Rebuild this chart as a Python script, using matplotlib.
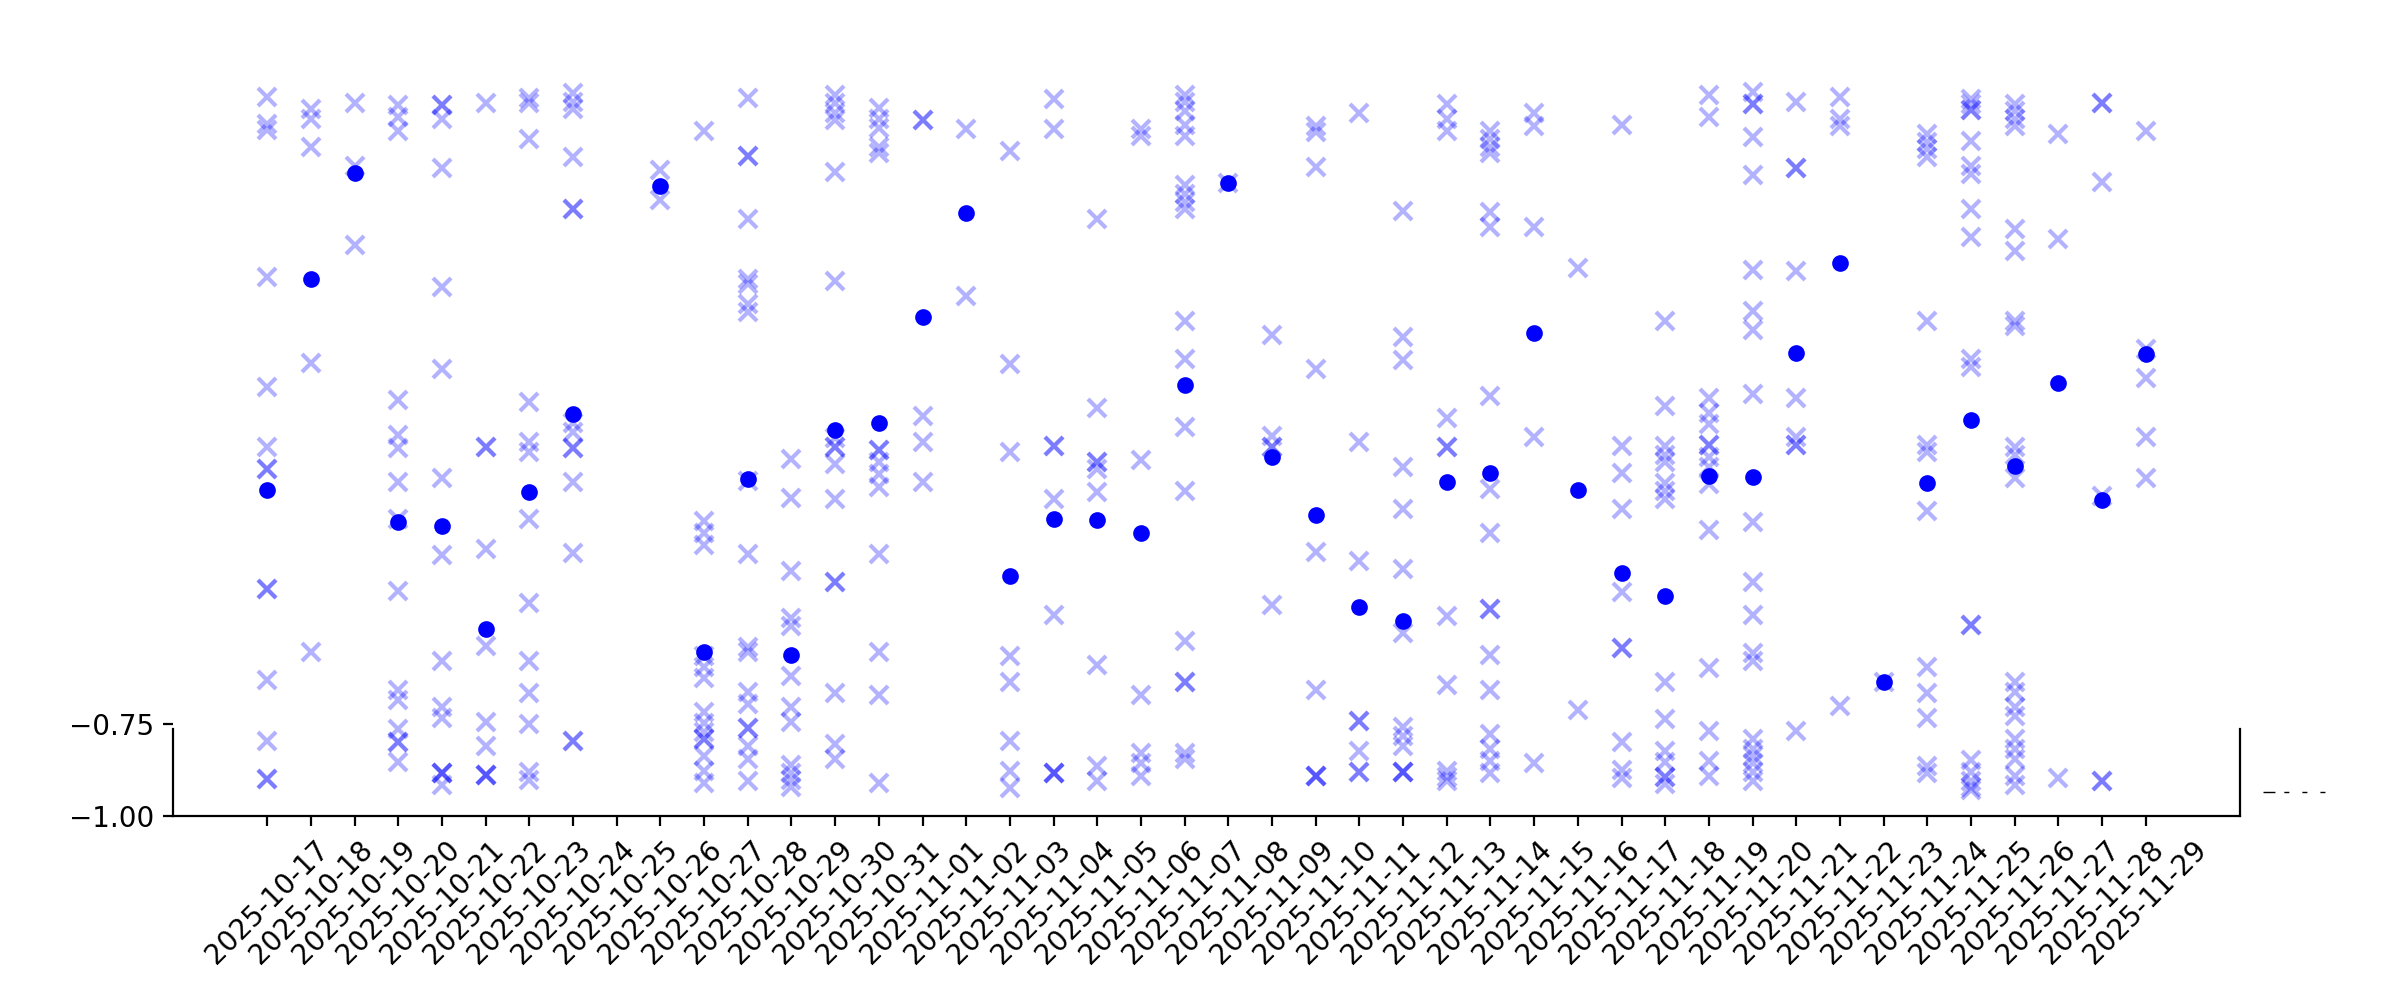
import matplotlib
matplotlib.use("Agg")
import matplotlib.pyplot as plt
from matplotlib.lines import Line2D
import pandas as pd

plt.rcParams['lines.scale_dashes'] = False

dates = [d.strftime("%Y-%m-%d") for d in pd.date_range("2025-10-17", "2025-11-29", freq="D")]

# raw samples per day, repeated values = overlapping marks
samples = [
    [0.954, 0.88, 0.865, 0.465, 0.165, 0.002, -0.058, -0.058, -0.382, -0.382, -0.631, -0.797, -0.90, -0.90],
    [0.92, 0.894, 0.818, 0.232, -0.554],
    [0.936, 0.767, 0.55],
    [0.931, 0.9, 0.86, 0.131, 0.035, 0.0, -0.092, -0.192, -0.388, -0.657, -0.684, -0.764, -0.8, -0.8, -0.853],
    [0.931, 0.931, 0.894, 0.761, 0.438, 0.215, -0.081, -0.291, -0.578, -0.704, -0.733, -0.884, -0.884, -0.884, -0.915],
    [0.936, 0.002, 0.002, -0.275, -0.538, -0.744, -0.81, -0.888, -0.888, -0.888],
    [0.95, 0.936, 0.84, 0.124, 0.015, -0.012, -0.192, -0.422, -0.578, -0.667, -0.75, -0.88, -0.901],
    [0.963, 0.94, 0.92, 0.79, 0.648, 0.648, 0.068, 0.042, 0.0, 0.0, -0.092, -0.285, -0.797, -0.797],
    [],
    [0.754, 0.674],
    [0.861, -0.198, -0.231, -0.265, -0.564, -0.595, -0.624, -0.717, -0.748, -0.771, -0.79, -0.79, -0.837, -0.877, -0.91],
    [0.95, 0.794, 0.794, 0.621, 0.46, 0.444, 0.39, 0.368, -0.091, -0.289, -0.542, -0.555, -0.664, -0.697, -0.76, -0.76, -0.81, -0.844, -0.904],
    [-0.029, -0.135, -0.334, -0.462, -0.484, -0.621, -0.704, -0.744, -0.861, -0.884, -0.901, -0.92],
    [0.96, 0.936, 0.91, 0.89, 0.75, 0.454, 0.026, 0.002, 0.002, -0.045, -0.138, -0.365, -0.365, -0.667, -0.804, -0.844],
    [0.923, 0.894, 0.87, 0.817, 0.8, -0.005, -0.005, -0.038, -0.072, -0.105, -0.289, -0.555, -0.671, -0.91],
    [0.891, 0.891, 0.088, 0.015, -0.092],
    [0.867, 0.412],
    [0.807, 0.228, -0.012, -0.564, -0.635, -0.795, -0.877, -0.924],
    [0.947, 0.867, 0.006, 0.006, -0.138, -0.454, -0.884, -0.884, -0.884],
    [0.621, 0.108, -0.038, -0.038, -0.058, -0.121, -0.591, -0.864, -0.904],
    [0.867, 0.847, -0.032, -0.671, -0.83, -0.857, -0.89],
    [0.96, 0.94, 0.914, 0.878, 0.847, 0.714, 0.691, 0.667, 0.648, 0.345, 0.241, 0.058, -0.118, -0.524, -0.635, -0.635, -0.83, -0.844],
    [0.721],
    [0.308, 0.032, 0.002, 0.002, -0.428],
    [0.874, 0.857, 0.763, 0.215, -0.282, -0.657, -0.89, -0.89, -0.89],
    [0.91, 0.015, -0.307, -0.741, -0.741, -0.824, -0.88, -0.88],
    [0.644, 0.301, 0.239, -0.052, -0.165, -0.329, -0.504, -0.757, -0.784, -0.81, -0.88, -0.88, -0.88],
    [0.934, 0.894, 0.861, 0.082, 0.002, 0.002, -0.458, -0.644, -0.877, -0.893, -0.906],
    [0.861, 0.838, 0.817, 0.8, 0.641, 0.601, 0.142, -0.111, -0.231, -0.438, -0.438, -0.562, -0.657, -0.777, -0.817, -0.85, -0.884],
    [0.91, 0.874, 0.601, 0.031, -0.857],
    [0.49, -0.713],
    [0.878, 0.004, -0.068, -0.165, -0.391, -0.544, -0.544, -0.8, -0.874, -0.897],
    [0.344, 0.115, 0.004, -0.018, -0.038, -0.094, -0.118, -0.138, -0.635, -0.737, -0.824, -0.853, -0.893, -0.893, -0.914],
    [0.958, 0.9, 0.135, 0.095, 0.066, 0.008, 0.008, -0.025, -0.052, -0.098, -0.222, -0.597, -0.768, -0.85, -0.89],
    [0.967, 0.934, 0.934, 0.845, 0.741, 0.484, 0.371, 0.321, 0.146, -0.201, -0.365, -0.454, -0.558, -0.578, -0.791, -0.817, -0.837, -0.857, -0.88, -0.904],
    [0.94, 0.761, 0.761, 0.481, 0.135, 0.031, 0.008, 0.008, -0.768],
    [0.954, 0.894, 0.874, -0.7],
    [-0.637],
    [0.854, 0.83, 0.811, 0.791, 0.345, 0.008, -0.012, -0.171, -0.595, -0.667, -0.733, -0.864, -0.884],
    [0.947, 0.934, 0.918, 0.918, 0.834, 0.767, 0.745, 0.648, 0.574, 0.241, 0.221, -0.482, -0.482, -0.848, -0.88, -0.904, -0.92, -0.93],
    [0.934, 0.914, 0.894, 0.874, 0.594, 0.534, 0.345, 0.332, 0.002, -0.018, -0.081, -0.637, -0.664, -0.704, -0.728, -0.791, -0.817, -0.844, -0.89, -0.917],
    [0.854, 0.568, -0.897],
    [0.938, 0.938, 0.723, -0.131, -0.904, -0.904],
    [0.861, 0.268, 0.191, 0.031, -0.082],
]

# one summary point per day (None = no data that day)
centers = [-0.114, 0.46, 0.747, -0.201, -0.211, -0.491, -0.121, 0.091, None, 0.711,
           -0.555, -0.085, -0.562, 0.048, 0.068, 0.357, 0.638, -0.349, -0.193, -0.195,
           -0.231, 0.171, 0.721, -0.025, -0.182, -0.432, -0.471, -0.092, -0.068, 0.311,
           -0.113, -0.341, -0.402, -0.076, -0.078, 0.259, 0.501, -0.637, -0.095, 0.075,
           -0.049, 0.175, -0.142, 0.255]

xs, ys = [], []
for i, vals in enumerate(samples):
    xs += [i] * len(vals)
    ys += vals
cx = [i for i, c in enumerate(centers) if c is not None]
cy = [c for c in centers if c is not None]

fig = plt.figure(figsize=(12, 5), dpi=200)
ax = fig.add_axes([0.0722, 0.184, 0.861, 0.759])

ax.plot(xs, ys, 'x', color='blue', alpha=0.3, ms=6.5, mew=1.5, linestyle='none')
ax.plot(cx, cy, 'o', color='blue', ms=5, linestyle='none')

ax.set_xticks(range(len(dates)))
ax.set_xticklabels(dates, rotation=45)
ax.set_xlim(-0.05 * (len(dates) - 1), (len(dates) - 1) * 1.05)
ax.set_ylim(-1, 1.062)
ax.set_yticks([-1.0, -0.75])
ax.tick_params(labelsize=10)

ax.spines['top'].set_visible(False)
ax.spines['left'].set_bounds(-1, -0.763)
ax.spines['right'].set_bounds(-1, -0.763)

# small dashed mark right of the axes
fig.add_artist(Line2D([0.943, 0.969], [0.208, 0.208], transform=fig.transFigure,
                      color='black', lw=0.5,
                      dashes=(4.3, 3.2, 1.8, 4.7, 1.8, 4.7, 1.8, 20)))

fig.savefig("out.png", dpi=200)
